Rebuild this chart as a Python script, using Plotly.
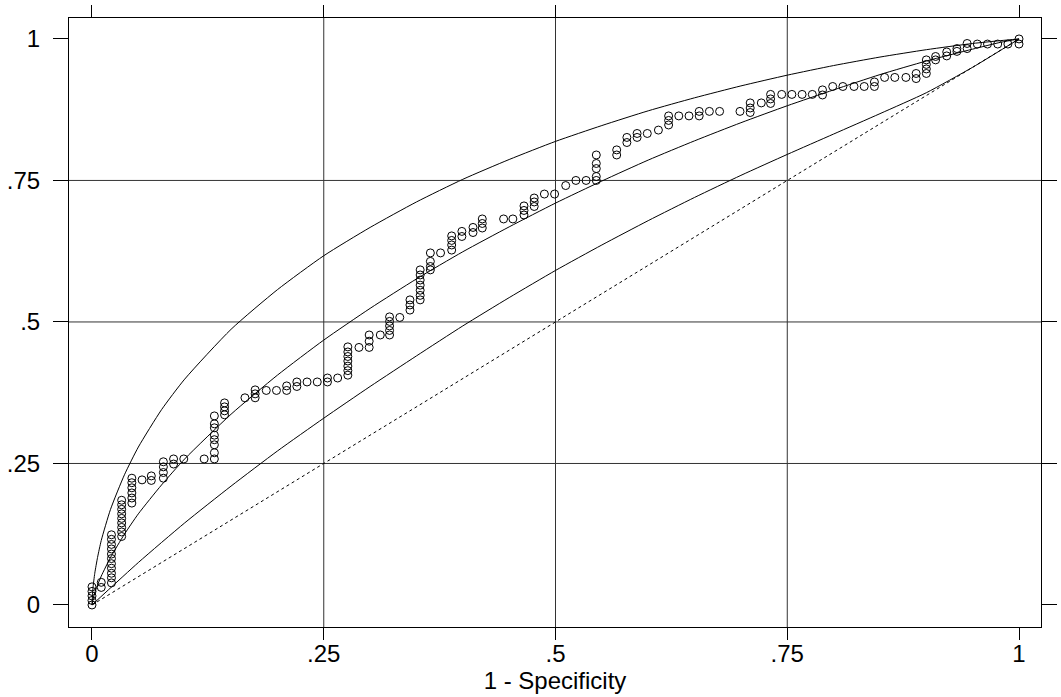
import plotly.graph_objects as go

# ---- empirical ROC points (1 - specificity, sensitivity) ----
pts_x = [
    0, 0, 0, 0, 0,
    .010, .010,
    .021, .021, .021, .021, .021, .021, .021, .021, .021, .021, .021,
    .032, .032, .032, .032, .032, .032, .032, .032, .032,
    .043, .043, .043, .043, .043, .043,
    .054,
    .064, .064,
    .077, .077, .077, .077,
    .088, .088,
    .099,
    .121,
    .132, .132, .132, .132, .132, .132, .132, .132,
    .143, .143, .143, .143,
    .165,
    .176, .176, .176,
    .188,
    .199,
    .210, .210,
    .221, .221,
    .232,
    .243,
    .254, .254,
    .265,
    .276, .276, .276, .276, .276, .276, .276,
    .288,
    .299, .299, .299,
    .311,
    .321, .321, .321, .321, .321,
    .332,
    .343, .343, .343,
    .354, .354, .354, .354, .354, .354, .354,
    .365, .365, .365, .365,
    .376,
    .388, .388, .388, .388,
    .399, .399,
    .411, .411,
    .421, .421, .421,
    .444,
    .454,
    .466, .466, .466,
    .477, .477, .477,
    .488,
    .499,
    .511,
    .522,
    .533,
    .544, .544, .544, .544, .544,
    .566, .566,
    .577, .577,
    .588, .588,
    .599,
    .611,
    .622, .622, .622,
    .633,
    .644,
    .655, .655,
    .666,
    .677,
    .699,
    .710, .710, .710,
    .722,
    .732, .732, .732,
    .744, .755, .766, .777,
    .788, .788,
    .799, .810, .822, .833,
    .844, .844,
    .855, .866, .878,
    .889, .889,
    .900, .900, .900, .900,
    .910, .910,
    .922, .922,
    .933, .933,
    .944, .944,
    .955, .966, .977, .988,
    1.0, 1.0,
]
pts_y = [
    0, .008, .016, .024, .032,
    .031, .040,
    .039, .048, .056, .065, .073, .082, .090, .099, .107, .116, .124,
    .121, .129, .137, .145, .153, .161, .169, .177, .185,
    .180, .189, .198, .207, .216, .224,
    .221,
    .220, .228,
    .224, .234, .244, .253,
    .249, .258,
    .258,
    .258,
    .258, .269, .283, .292, .300, .313, .320, .334,
    .336, .343, .350, .357,
    .366,
    .366, .373, .380,
    .379,
    .379,
    .379, .387,
    .386, .394,
    .394,
    .394,
    .394, .401,
    .401,
    .406, .414, .422, .431, .439, .447, .456,
    .455,
    .455, .466, .477,
    .477,
    .477, .485, .493, .501, .509,
    .508,
    .521, .530, .539,
    .539, .547, .556, .565, .574, .583, .592,
    .592, .598, .607, .622,
    .622,
    .627, .636, .644, .652,
    .651, .660,
    .658, .667,
    .666, .674, .682,
    .682,
    .682,
    .689, .697, .705,
    .704, .712, .719,
    .726,
    .726,
    .741,
    .750,
    .750,
    .750, .757, .771, .780, .795,
    .795, .804,
    .817, .826,
    .826, .833,
    .833,
    .839,
    .848, .856, .864,
    .864,
    .864,
    .864, .872,
    .872,
    .872,
    .872,
    .870, .878, .887,
    .887,
    .886, .894, .902,
    .902, .902, .902, .902,
    .901, .910,
    .916, .916, .916, .916,
    .916, .924,
    .932, .932, .932,
    .930, .939,
    .939, .947, .955, .963,
    .963, .969,
    .970, .977,
    .978, .983,
    .983, .992,
    .991, .991, .991, .991,
    .991, 1.0,
]

# ---- smooth fitted curves ----
upper_x = [0, .001, .003, .006, .01, .02, .035, .05, .075, .1, .15, .2, .25, .3, .35, .4,
           .45, .5, .55, .6, .65, .7, .75, .8, .85, .9, .95, .98, 1.0]
upper_y = [0, .029, .056, .084, .114, .169, .230, .279, .345, .399, .487, .557, .617, .667,
           .712, .752, .787, .819, .847, .873, .896, .917, .936, .953, .968, .981, .992, .997, 1.0]

middle_x = [0, .002, .005, .01, .02, .035, .05, .075, .1, .15, .2, .25, .3, .35, .4, .45,
            .5, .55, .6, .65, .7, .75, .8, .85, .9, .95, .98, 1.0]
middle_y = [0, .016, .031, .051, .084, .125, .161, .212, .258, .337, .406, .468, .524, .576,
            .624, .668, .710, .749, .786, .820, .852, .882, .910, .937, .961, .982, .994, 1.0]

lower_x = [0, .05, .1, .15, .2, .25, .3, .35, .4, .45, .5, .55, .6, .65, .7, .75, .8, .85, .9, .95, 1.0]
lower_y = [0, .075, .145, .210, .272, .330, .386, .440, .493, .543, .591, .636, .679, .720,
           .759, .796, .832, .868, .905, .950, 1.0]

diag_x = [0, 1]
diag_y = [0, 1]

tick_vals = [0, .25, .5, .75, 1]
tick_text = ["0", ".25", ".5", ".75", "1"]

fig = go.Figure()
fig.add_trace(go.Scatter(x=diag_x, y=diag_y, mode="lines",
                         line=dict(color="black", width=1, dash="dot"), hoverinfo="skip"))
for cx, cy in [(upper_x, upper_y), (middle_x, middle_y), (lower_x, lower_y)]:
    fig.add_trace(go.Scatter(x=cx, y=cy, mode="lines",
                             line=dict(color="black", width=1, shape="spline", smoothing=0.6)))
fig.add_trace(go.Scatter(x=pts_x, y=pts_y, mode="markers",
                         marker=dict(symbol="circle-open", size=8, color="black",
                                     line=dict(width=1, color="black"))))

font = dict(family="Liberation Sans, Arial, sans-serif", size=24, color="black")
fig.update_layout(
    width=1061, height=697,
    margin=dict(l=69, r=20, t=18, b=70),
    paper_bgcolor="white", plot_bgcolor="white",
    showlegend=False,
    font=font,
    xaxis=dict(range=[-0.0248, 1.0237], tickvals=tick_vals, ticktext=tick_text,
               ticks="outside", ticklen=12, tickwidth=1, tickcolor="black",
               showline=True, linecolor="black", linewidth=1, mirror="ticks",
               showgrid=False, zeroline=False, automargin=False,
               ticklabelstandoff=-7,
               title=dict(text="1 - Specificity", font=font, standoff=0),
               tickfont=font),
    yaxis=dict(range=[-0.0389, 1.037], tickvals=tick_vals, ticktext=tick_text,
               ticks="outside", ticklen=15, tickwidth=1, tickcolor="black",
               showline=True, linecolor="black", linewidth=1, mirror="ticks",
               showgrid=False, zeroline=False, tickfont=font, automargin=False,
               ticklabelstandoff=8),
)
for v in [.25, .5, .75]:
    fig.add_shape(type="line", xref="x", yref="paper", x0=v, x1=v, y0=0, y1=1,
                  line=dict(color="#333333", width=1), layer="below")
    fig.add_shape(type="line", xref="paper", yref="y", x0=0, x1=1, y0=v, y1=v,
                  line=dict(color="#333333", width=1), layer="below")

fig.write_html("out.html")
